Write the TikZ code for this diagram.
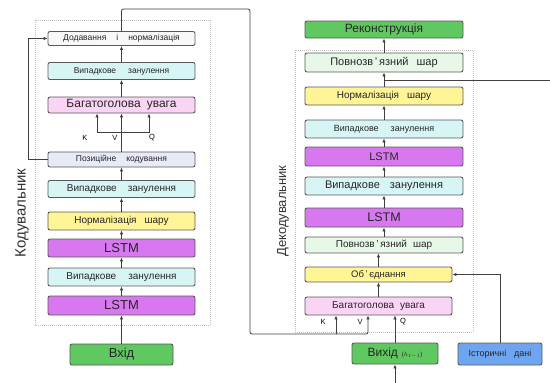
\documentclass[tikz,border=0pt]{standalone}
\usepackage{fontspec}
\setmainfont{Liberation Sans}
\usetikzlibrary{arrows.meta}
\definecolor{boxgreen}{RGB}{96,200,96}
\definecolor{lstmviolet}{RGB}{216,120,240}
\definecolor{normyellow}{RGB}{255,245,150}
\definecolor{dropcyan}{RGB}{215,245,245}
\definecolor{attpink}{RGB}{250,212,245}
\definecolor{poslav}{RGB}{232,234,248}
\definecolor{addgray}{RGB}{248,248,248}
\definecolor{fcgreen}{RGB}{232,248,232}
\definecolor{histblue}{RGB}{110,165,240}
\newcommand\lf[2]{\fontsize{#1}{#1}\selectfont\spaceskip=#2pt\relax}
\tikzset{%
  layer/.style = {shape=rectangle, rounded corners=2pt,%
                  draw=black!65, line width=0.9pt, align=center,%
                  inner sep=1pt, text=black!85},%
  encl/.style  = {layer, minimum width=147pt},%
  decl/.style  = {layer, minimum width=158pt},%
  flow/.style  = {-{Latex[length=4pt,width=3.5pt]}, draw=black!75, line width=0.8pt},%
  wire/.style  = {draw=black!75, line width=0.8pt},%
  frame/.style = {draw=gray!50, densely dotted, line width=1pt}%
}

\begin{document}
\begin{tikzpicture}[x=1pt,y=-1pt]
\useasboundingbox (0,0) rectangle (550,383);
\draw[frame] (35,20) rectangle (210,325);
\draw[frame] (295,50) rectangle (473,332);
\node[rotate=90, text=black!80, font=\lf{15}{4}] (enclabel) at (22,213) {Кодувальник};
\node[rotate=90, text=black!80, font=\lf{13}{4}] (declabel) at (283,211) {Декодувальник};
% encoder
\node[encl, fill=addgray, minimum height=14pt, font=\lf{8.5}{10}] (eadd) at (121.5,38.5) {Додавання і нормалізація};
\node[encl, fill=dropcyan, minimum height=17pt, font=\lf{8.5}{12}] (edrop3) at (121.5,71) {Випадкове занулення};
\node[encl, fill=attpink, minimum height=16pt, font=\lf{12}{6}] (eatt) at (121.5,105) {Багатоголова увага};
\node[encl, fill=poslav, minimum height=15pt, font=\lf{8.5}{10}] (epos) at (121.5,159.5) {Позиційне кодування};
\node[encl, fill=dropcyan, minimum height=17pt, font=\lf{10}{11}] (edrop2) at (121.5,189) {Випадкове занулення};
\node[encl, fill=normyellow, minimum height=18pt, font=\lf{10}{8}] (enorm) at (121.5,221) {Нормалізація шару};
\node[encl, fill=lstmviolet, minimum height=18pt, font=\lf{13}{4}] (elstm2) at (121.5,248) {LSTM};
\node[encl, fill=dropcyan, minimum height=18pt, font=\lf{10}{12}] (edrop1) at (121.5,277) {Випадкове занулення};
\node[encl, fill=lstmviolet, minimum height=19pt, font=\lf{13}{4}] (elstm1) at (121.5,305.5) {LSTM};
\node[layer, fill=boxgreen, minimum width=103pt, minimum height=21pt, font=\lf{13}{4}] (ein) at (121.5,354.5) {Вхід};
\node[font=\lf{7.5}{3}] (eklab) at (85,138) {K};
\node[font=\lf{7.5}{3}] (evlab) at (115,138) {V};
\node[font=\lf{7.5}{3}] (eqlab) at (152,138) {Q};
\draw[flow] (ein) -- (elstm1);
\draw[flow] (elstm1) -- (edrop1);
\draw[flow] (edrop1) -- (elstm2);
\draw[flow] (elstm2) -- (enorm);
\draw[flow] (enorm) -- (edrop2);
\draw[flow] (edrop2) -- (epos);
\draw[flow] (epos) -- (eatt);
\draw[flow] (eatt) -- (edrop3);
\draw[flow] (edrop3) -- (eadd);
\coordinate (ekvq) at (121.5,132);
\draw[flow] (ekvq) -| ([xshift=-24.5pt]eatt.south);
\draw[flow] (ekvq) -| ([xshift=27.5pt]eatt.south);
\draw[flow] (epos.west) -- ++(-19,0) |- (eadd.west);
% decoder
\node[decl, fill=boxgreen, minimum height=17pt, font=\lf{12}{4}] (drec) at (384,29.5) {Реконструкція};
\node[decl, fill=fcgreen, minimum height=19pt, font=\lf{11}{8}] (dfc2) at (384,62.5) {Повнозв\,'\,язний шар};
\node[decl, fill=normyellow, minimum height=18pt, font=\lf{10}{8}] (dnorm) at (384,96) {Нормалізація шару};
\node[decl, fill=dropcyan, minimum height=18pt, font=\lf{9}{12}] (ddrop2) at (384,129) {Випадкове занулення};
\node[decl, fill=lstmviolet, minimum height=19pt, font=\lf{11}{4}] (dlstm2) at (384,156.5) {LSTM};
\node[decl, fill=dropcyan, minimum height=18pt, font=\lf{11}{10}] (ddrop1) at (384,186) {Випадкове занулення};
\node[decl, fill=lstmviolet, minimum height=19pt, font=\lf{12.5}{4}] (dlstm1) at (384,217.5) {LSTM};
\node[decl, fill=fcgreen, minimum height=16pt, font=\lf{10}{6}] (dfc1) at (384,245) {Повнозв\,'\,язний шар};
\node[encl, fill=normyellow, minimum height=15pt, font=\lf{9.5}{4}] (dcat) at (378.5,274.5) {Об\,'\,єднання};
\node[encl, fill=attpink, minimum height=18pt, font=\lf{10}{6}] (datt) at (378.5,306) {Багатоголова увага};
\node[layer, fill=boxgreen, minimum width=86pt, minimum height=21pt, font=\lf{12}{4}] (dout) at (395,353.5) {Вихід {\lf{6}{2}($h_{t-1}$)}};
\node[layer, fill=histblue, minimum width=84pt, minimum height=22pt, font=\lf{9}{8}] (dhist) at (500,354) {Історичні дані};
\node[font=\lf{7.5}{3}] (dklab) at (323,322) {K};
\node[font=\lf{7.5}{3}] (dvlab) at (360,322) {V};
\node[font=\lf{7.5}{3}] (dqlab) at (403,322) {Q};
\draw[flow] (datt) -- (dcat);
\draw[flow] (dcat.north) -- (dcat.north |- dfc1.south);
\draw[flow] (dfc1) -- (dlstm1);
\draw[flow] (dlstm1) -- (ddrop1);
\draw[flow] (ddrop1) -- (dlstm2);
\draw[flow] (dlstm2) -- (ddrop2);
\draw[flow] (ddrop2) -- (dnorm);
\draw[flow] (dnorm) -- (dfc2);
\draw[flow] (dfc2) -- (drec);
\coordinate (resin) at (550,80);
\coordinate (resjoin) at (384,80);
\draw[wire] (resin) -- (resjoin);
\draw[flow] (dhist.north) |- (dcat.east);
\coordinate (outsrc) at (395,383);
\draw[flow] (outsrc) -- (dout);
\draw[flow] (dout) -- (dout |- datt.south);
% encoder to decoder
\coordinate (vbus) at (368,334);
\coordinate (kbus) at (336,334);
\draw[flow, rounded corners=2pt] (eadd.north) |- (250,9) |- (vbus) -- (vbus |- datt.south);
\draw[flow] (kbus) -- (kbus |- datt.south);
\end{tikzpicture}
\end{document}
